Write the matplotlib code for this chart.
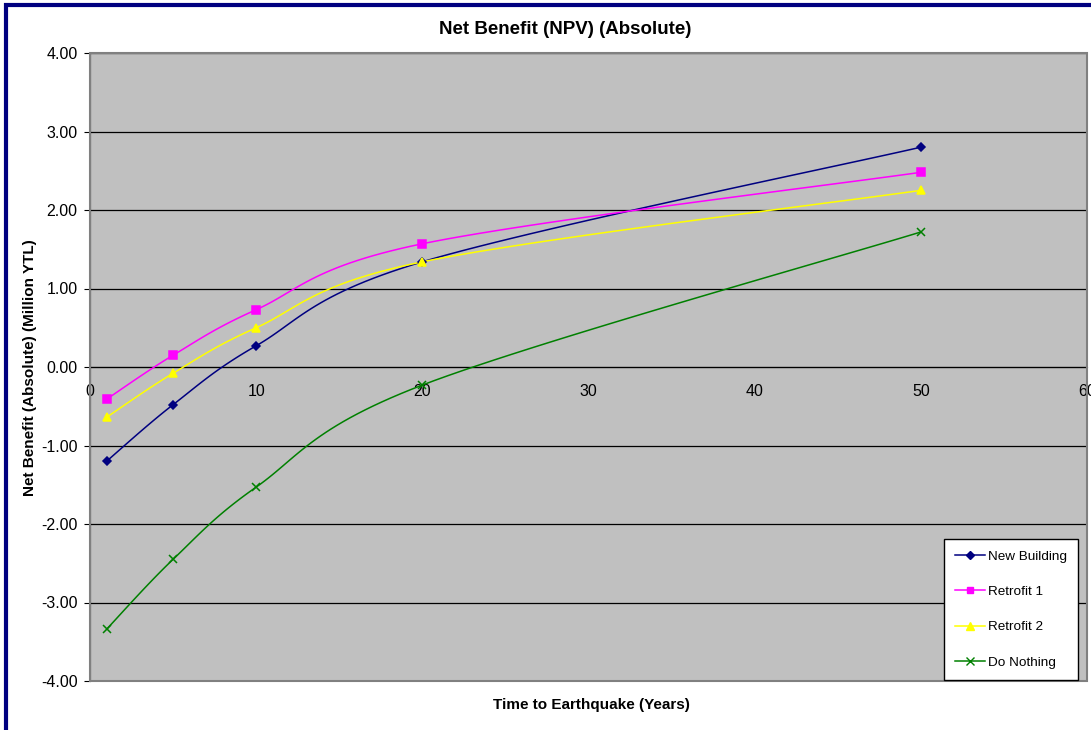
#!/usr/bin/env python3

import numpy as np
import matplotlib
matplotlib.use("Agg")
import matplotlib.pyplot as plt
from matplotlib.patches import Rectangle

plt.rcParams['font.family'] = ['Liberation Sans', 'DejaVu Sans']

years = [1, 5, 10, 20, 50]
new_building = [-1.20, -0.48, 0.27, 1.34, 2.80]
retrofit_1 = [-0.41, 0.15, 0.73, 1.57, 2.48]
retrofit_2 = [-0.64, -0.08, 0.50, 1.34, 2.25]
do_nothing = [-3.34, -2.45, -1.53, -0.23, 1.72]

x_ticks = [0, 10, 20, 30, 40, 50, 60]
y_ticks = [-4, -3, -2, -1, 0, 1, 2, 3, 4]


def smooth(xs, ys, steps=30):
    # Excel style smoothed line (Bezier with 1/6 tension, i.e. Catmull-Rom)
    p = np.column_stack([xs, ys]).astype(float)
    p = np.vstack([p[0], p, p[-1]])
    out = []
    t = np.linspace(0, 1, steps)
    for i in range(1, len(p) - 2):
        p0, p1, p2, p3 = p[i - 1], p[i], p[i + 1], p[i + 2]
        c1 = p1 + (p2 - p0) / 6.0
        c2 = p2 - (p3 - p1) / 6.0
        seg = ((1 - t) ** 3)[:, None] * p1 + (3 * (1 - t) ** 2 * t)[:, None] * c1 \
            + (3 * (1 - t) * t ** 2)[:, None] * c2 + (t ** 3)[:, None] * p2
        out.append(seg)
    out = np.vstack(out)
    return out[:, 0], out[:, 1]


fig = plt.figure(figsize=(10.91, 7.30), dpi=100)
ax = fig.add_axes([90 / 1091, 49 / 730, 997 / 1091, 628 / 730])
ax.set_facecolor('#c0c0c0')

series = [
    ("New Building", new_building, '#000080', 'D', 4.5),
    ("Retrofit 1", retrofit_1, '#ff00ff', 's', 5.5),
    ("Retrofit 2", retrofit_2, '#ffff00', '^', 6),
    ("Do Nothing", do_nothing, '#008000', 'x', 6),
]

for name, vals, col, mk, ms in series:
    sx, sy = smooth(years, vals)
    ax.plot(sx, sy, color=col, linewidth=1.1, zorder=3)
    ax.plot(years, vals, linestyle='none', marker=mk, markersize=ms,
            color=col, markeredgewidth=1.1, zorder=4)
    # legend proxy
    ax.plot([], [], color=col, linewidth=1.1, marker=mk, markersize=ms - 0.5,
            markeredgewidth=1.0, label=name)

ax.spines['bottom'].set_position(('data', 0))
ax.spines['bottom'].set_color('black')
ax.spines['left'].set_color('black')
ax.spines['top'].set_visible(False)
ax.spines['right'].set_visible(False)

ax.set_xlim(0, 60)
ax.set_ylim(-4, 4)
ax.set_xticks(x_ticks)
ax.set_yticks(y_ticks)
ax.set_yticklabels([f"{v:.2f}" for v in y_ticks])
ax.set_xticklabels([str(v) for v in x_ticks])
ax.tick_params(axis='x', length=0, pad=12, labelsize=11.5)
ax.tick_params(axis='y', length=4, direction='out', pad=5, labelsize=11.5)

for v in y_ticks:
    ax.axhline(v, color='#000000', linewidth=0.9, zorder=1)

frame = Rectangle((0, 0), 1, 1, transform=ax.transAxes, fill=False,
                  edgecolor='#808080', linewidth=1.5, zorder=5, clip_on=False)
ax.add_patch(frame)

fig.text(565 / 1091, 1 - 29 / 730, "Net Benefit (NPV) (Absolute)", fontsize=13.5,
         fontweight='bold', ha='center', va='center')
fig.text(30 / 1091, 1 - 368 / 730, "Net Benefit (Absolute) (Million YTL)", fontsize=11,
         fontweight='bold', ha='center', va='center', rotation=90)
fig.text(591 / 1091, 1 - 705 / 730, "Time to Earthquake (Years)", fontsize=11,
         fontweight='bold', ha='center', va='center')

leg = ax.legend(loc='lower right', bbox_to_anchor=(0.991, 0.0015), frameon=True,
                fancybox=False, edgecolor='black', facecolor='white', framealpha=1,
                fontsize=9.7, labelspacing=1.7, handlelength=2.2,
                handletextpad=0.2, borderpad=0.85, borderaxespad=0)
leg.get_frame().set_linewidth(1.0)
leg.set_zorder(6)

# outer chart border (blue), cut off at right and bottom like the original
border = Rectangle((6 / 1091, -0.2), 1.2, 1.2 - 5 / 730, transform=fig.transFigure,
                   fill=False, edgecolor='#000080', linewidth=3)
fig.patches.append(border)

fig.savefig("out.png", dpi=100)
